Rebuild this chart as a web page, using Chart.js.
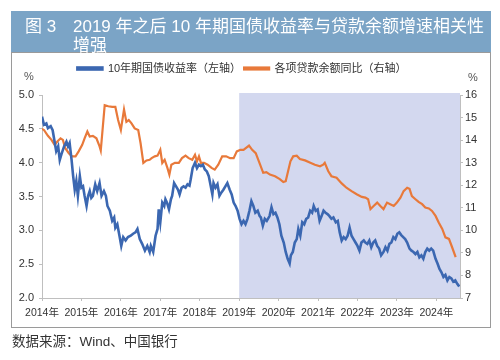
<!DOCTYPE html>
<html>
<head>
<meta charset="utf-8">
<script src="https://cdn.jsdelivr.net/npm/chart.js@4/dist/chart.umd.min.js"></script>
<style>
  body { margin: 0; background: #fff; }
  #wrap { position: relative; width: 500px; height: 360px; background: #fff; overflow: hidden;
          font-family: "Liberation Sans", Arial, "Noto Sans CJK SC", sans-serif; }
  #chart { position: absolute; left: 0; top: 0; }
  #band { position: absolute; left: 11px; top: 11px; width: 480px; height: 41px; background: #7ba4c6;
          color: #fff; font-size: 17px; line-height: 19px; }
  #band .num { position: absolute; left: 14px; top: 6px; }
  #band .txt { position: absolute; left: 62px; top: 6px; white-space: nowrap; }
  #box { position: absolute; left: 11px; top: 52px; width: 480px; height: 276px; box-sizing: border-box;
         border: 1.5px solid #9a9a9a; }
  #source { position: absolute; left: 12px; top: 330px; font-size: 13.5px; color: #333; }
</style>
</head>
<body>
<div id="wrap">
  <canvas id="chart" width="500" height="360"></canvas>
  <div id="box"></div>
  <div id="band"><span class="num">图 3</span><span class="txt">2019 年之后 10 年期国债收益率与贷款余额增速相关性<br>增强</span></div>
  <div id="source">数据来源：Wind、中国银行</div>
</div>
<script>
// 10年期国债收益率 (left axis, %)
const bondDates = [
  2014.00, 2014.05, 2014.11, 2014.15, 2014.22, 2014.27, 2014.32, 2014.36, 2014.41, 2014.45,
  2014.49, 2014.56, 2014.62, 2014.66, 2014.70, 2014.75, 2014.79, 2014.83, 2014.87, 2014.91,
  2014.96, 2015.00, 2015.04, 2015.08, 2015.13, 2015.17, 2015.21, 2015.25, 2015.29, 2015.35,
  2015.40, 2015.46, 2015.51, 2015.57, 2015.62, 2015.66, 2015.72, 2015.78, 2015.83, 2015.86,
  2015.91, 2015.97, 2016.01, 2016.06, 2016.12, 2016.18, 2016.25, 2016.31, 2016.37, 2016.42,
  2016.48, 2016.54, 2016.61, 2016.67, 2016.73, 2016.76, 2016.82, 2016.88, 2016.93, 2016.96,
  2017.00, 2017.05, 2017.10, 2017.13, 2017.17, 2017.22, 2017.27, 2017.30, 2017.35, 2017.40,
  2017.45, 2017.49, 2017.54, 2017.59, 2017.64, 2017.69, 2017.74, 2017.77, 2017.82, 2017.88,
  2017.93, 2017.98, 2018.03, 2018.08, 2018.13, 2018.18, 2018.23, 2018.28, 2018.32, 2018.35,
  2018.40, 2018.45, 2018.50, 2018.55, 2018.60, 2018.65, 2018.70, 2018.76, 2018.81, 2018.86,
  2018.91, 2018.96, 2019.01, 2019.06, 2019.11, 2019.16, 2019.21, 2019.26, 2019.31, 2019.36,
  2019.41, 2019.47, 2019.52, 2019.55, 2019.60, 2019.65, 2019.70, 2019.77, 2019.82, 2019.87,
  2019.92, 2019.97, 2020.02, 2020.07, 2020.13, 2020.18, 2020.23, 2020.28, 2020.31, 2020.36,
  2020.41, 2020.46, 2020.50, 2020.55, 2020.60, 2020.65, 2020.70, 2020.75, 2020.80, 2020.85,
  2020.89, 2020.94, 2020.99, 2021.04, 2021.09, 2021.14, 2021.19, 2021.24, 2021.29, 2021.34,
  2021.39, 2021.45, 2021.50, 2021.55, 2021.60, 2021.65, 2021.70, 2021.75, 2021.80, 2021.85,
  2021.90, 2021.95, 2022.00, 2022.05, 2022.10, 2022.16, 2022.20, 2022.25, 2022.30, 2022.35,
  2022.40, 2022.45, 2022.50, 2022.55, 2022.60, 2022.66, 2022.71, 2022.76, 2022.81, 2022.86,
  2022.91, 2022.96, 2023.01, 2023.06, 2023.11, 2023.16, 2023.21, 2023.26, 2023.32, 2023.37,
  2023.42, 2023.47, 2023.52, 2023.57, 2023.62, 2023.67, 2023.72, 2023.77, 2023.82, 2023.87,
  2023.92, 2023.98, 2024.03, 2024.08, 2024.13, 2024.18, 2024.23, 2024.28, 2024.33, 2024.38,
  2024.43, 2024.48, 2024.53, 2024.58
];
const bondYield = [
  4.68, 4.56, 4.58, 4.51, 4.54, 4.48, 4.31, 4.17, 4.24, 4.04,
  4.12, 4.24, 4.31, 4.24, 4.29, 4.04, 3.80, 3.60, 3.73, 3.51,
  3.80, 3.63, 3.65, 3.51, 3.36, 3.51, 3.58, 3.48, 3.51, 3.68,
  3.58, 3.70, 3.51, 3.58, 3.51, 3.36, 3.29, 3.14, 3.19, 3.04,
  3.09, 2.90, 2.77, 2.90, 2.85, 2.90, 2.92, 2.95, 2.97, 3.02,
  2.87, 2.80, 2.70, 2.77, 2.68, 2.77, 2.68, 2.92, 3.02, 3.31,
  3.12, 3.41, 3.36, 3.46, 3.41, 3.31, 3.46, 3.51, 3.70, 3.65,
  3.60, 3.53, 3.63, 3.65, 3.63, 3.68, 3.66, 3.75, 3.92, 4.00,
  3.92, 3.97, 3.95, 3.97, 3.90, 3.87, 3.80, 3.65, 3.53, 3.70,
  3.63, 3.68, 3.51, 3.56, 3.60, 3.65, 3.70, 3.60, 3.53, 3.41,
  3.36, 3.29, 3.17, 3.09, 3.14, 3.09, 3.17, 3.29, 3.43, 3.36,
  3.26, 3.29, 3.21, 3.19, 3.07, 3.17, 3.14, 3.21, 3.34, 3.24,
  3.26, 3.19, 3.09, 2.92, 2.82, 2.68, 2.58, 2.51, 2.63, 2.68,
  2.82, 2.87, 3.02, 2.92, 3.12, 3.09, 3.17, 3.19, 3.29, 3.26,
  3.36, 3.29, 3.31, 3.14, 3.21, 3.29, 3.26, 3.24, 3.21, 3.17,
  3.19, 3.12, 3.14, 2.97, 2.85, 2.90, 2.87, 2.92, 3.04, 2.92,
  2.87, 2.82, 2.77, 2.70, 2.82, 2.85, 2.82, 2.80, 2.85, 2.75,
  2.82, 2.85, 2.77, 2.73, 2.63, 2.68, 2.75, 2.70, 2.80, 2.82,
  2.90, 2.87, 2.95, 2.97, 2.93, 2.90, 2.87, 2.82, 2.73, 2.70,
  2.68, 2.65, 2.68, 2.60, 2.63, 2.58, 2.68, 2.73, 2.70, 2.73,
  2.70, 2.58, 2.51, 2.43, 2.38, 2.31, 2.34, 2.26, 2.31, 2.29,
  2.24, 2.26, 2.21, 2.17
];

// 各项贷款余额同比 (right axis, %)
const loanDates = [
  2014.00, 2014.05, 2014.15, 2014.24, 2014.32, 2014.39, 2014.47, 2014.53, 2014.59, 2014.68,
  2014.76, 2014.85, 2014.93, 2015.02, 2015.08, 2015.15, 2015.21, 2015.29, 2015.38, 2015.46,
  2015.49, 2015.59, 2015.68, 2015.78, 2015.86, 2015.93, 2016.00, 2016.08, 2016.14, 2016.20,
  2016.27, 2016.35, 2016.44, 2016.50, 2016.57, 2016.65, 2016.73, 2016.78, 2016.86, 2016.93,
  2017.00, 2017.05, 2017.11, 2017.18, 2017.23, 2017.28, 2017.37, 2017.47, 2017.55, 2017.64,
  2017.72, 2017.81, 2017.88, 2017.93, 2017.98, 2018.03, 2018.11, 2018.20, 2018.30, 2018.38,
  2018.47, 2018.57, 2018.67, 2018.77, 2018.86, 2018.94, 2019.03, 2019.11, 2019.25, 2019.33,
  2019.42, 2019.50, 2019.61, 2019.69, 2019.78, 2019.91, 2020.03, 2020.12, 2020.18, 2020.24,
  2020.30, 2020.37, 2020.46, 2020.54, 2020.67, 2020.79, 2020.92, 2021.05, 2021.13, 2021.17,
  2021.26, 2021.34, 2021.47, 2021.60, 2021.72, 2021.85, 2021.98, 2022.11, 2022.20, 2022.27,
  2022.33, 2022.41, 2022.50, 2022.58, 2022.66, 2022.75, 2022.83, 2022.92, 2023.00, 2023.09,
  2023.17, 2023.26, 2023.32, 2023.38, 2023.47, 2023.55, 2023.64, 2023.72, 2023.81, 2023.89,
  2023.98, 2024.06, 2024.15, 2024.23, 2024.32, 2024.40, 2024.49
];
const loanGrowth = [
  14.50, 14.45, 14.19, 14.01, 13.79, 13.94, 14.08, 14.01, 13.64, 13.42,
  13.28, 13.28, 13.50, 13.79, 14.08, 14.38, 14.16, 14.19, 14.08, 13.72,
  13.54, 15.55, 15.50, 15.47, 15.47, 14.89, 14.45, 15.36, 14.81, 14.89,
  14.74, 14.52, 14.45, 13.86, 12.99, 13.10, 13.13, 13.20, 13.28, 13.31,
  13.57, 12.99, 13.13, 12.77, 12.47, 12.91, 12.99, 12.99, 13.20, 13.31,
  13.20, 13.13, 13.35, 13.06, 13.28, 12.99, 12.99, 12.91, 12.77, 12.69,
  12.91, 13.28, 13.28, 13.20, 13.20, 13.50, 13.57, 13.57, 13.76, 13.57,
  13.42, 13.06, 12.55, 12.58, 12.47, 12.40, 12.27, 12.14, 12.18, 12.62,
  13.06, 13.28, 13.31, 13.16, 13.10, 13.01, 12.91, 12.84, 12.91, 12.99,
  12.62, 12.40, 12.33, 12.08, 11.89, 11.74, 11.60, 11.48, 11.45, 11.38,
  10.94, 11.08, 11.23, 11.08, 10.94, 11.23, 11.16, 11.08, 11.23, 11.45,
  11.74, 11.89, 11.84, 11.52, 11.38, 11.26, 11.16, 11.01, 10.97, 10.86,
  10.64, 10.35, 10.06, 9.69, 9.62, 9.25, 8.81
];

const yearTicks = [2014, 2015, 2016, 2017, 2018, 2019, 2020, 2021, 2022, 2023, 2024];
const shadeFrom = 2019;

const blue = '#3b67b1';
const orange = '#e8793a';
const axisGray = '#bfbfbf';
const font = '"Liberation Sans", Arial, "Noto Sans CJK SC", sans-serif';

// light band behind the post-2019 period
const shadePlugin = {
  id: 'shade',
  beforeDatasetsDraw(chart) {
    const {ctx, chartArea, scales} = chart;
    const x0 = scales.x.getPixelForValue(shadeFrom);
    ctx.save();
    ctx.fillStyle = '#d3d8ef';
    ctx.fillRect(x0, chartArea.top - 2, chartArea.right - x0, chartArea.bottom - chartArea.top + 2);
    ctx.restore();
  }
};

// "%" above both value axes
const unitPlugin = {
  id: 'units',
  afterDraw(chart) {
    const {ctx, chartArea} = chart;
    ctx.save();
    ctx.font = '11px ' + font;
    ctx.fillStyle = '#555';
    ctx.textAlign = 'center';
    ctx.textBaseline = 'middle';
    ctx.fillText('%', 29, chartArea.top - 18);
    ctx.fillText('%', chartArea.right + 13, chartArea.top - 17);
    ctx.restore();
  }
};

// some room between the legend and the plot
const legendGap = {
  id: 'legendGap',
  afterInit(chart) {
    const fit = chart.legend.fit;
    chart.legend.fit = function () { fit.call(this); this.height += 11; };
  }
};

const toPoints = (xs, ys) => xs.map((x, i) => ({x: x, y: ys[i]}));

new Chart(document.getElementById('chart'), {
  type: 'line',
  data: {
    datasets: [{
      label: '10年期国债收益率（左轴）',
      data: toPoints(bondDates, bondYield),
      yAxisID: 'y',
      borderColor: blue,
      backgroundColor: blue,
      borderWidth: 2.6,
      pointRadius: 0,
      tension: 0
    }, {
      label: '各项贷款余额同比（右轴）',
      data: toPoints(loanDates, loanGrowth),
      yAxisID: 'y1',
      borderColor: orange,
      backgroundColor: orange,
      borderWidth: 2.2,
      pointRadius: 0,
      tension: 0
    }]
  },
  options: {
    responsive: false,
    animation: false,
    devicePixelRatio: 1,
    layout: { padding: { left: 0, right: 16, top: 60, bottom: 38 } },
    plugins: {
      legend: {
        position: 'top',
        labels: {
          boxWidth: 25,
          boxHeight: 2,
          padding: 3,
          color: '#333',
          font: { size: 11, family: font }
        }
      },
      tooltip: { enabled: false }
    },
    scales: {
      x: {
        type: 'linear',
        min: 2014,
        max: 2024.6,
        afterBuildTicks: s => { s.ticks = yearTicks.map(v => ({value: v})); },
        afterFit: s => { s.height = 24; },
        grid: { drawOnChartArea: false, tickLength: 3, color: axisGray },
        border: { color: axisGray },
        ticks: {
          padding: 6,
          color: '#333',
          maxRotation: 0,
          autoSkip: false,
          font: { size: 10.5, family: font },
          callback: v => v + '年'
        }
      },
      y: {
        position: 'left',
        min: 2,
        max: 5,
        afterFit: s => { s.width = 42; },
        grid: { drawOnChartArea: false, tickLength: 3, color: axisGray },
        border: { color: axisGray },
        ticks: {
          stepSize: 0.5,
          padding: 5,
          color: '#333',
          font: { size: 11, family: font },
          callback: v => v.toFixed(1)
        }
      },
      y1: {
        position: 'right',
        min: 7,
        max: 16,
        afterFit: s => { s.width = 24; },
        grid: { drawOnChartArea: false, tickLength: 3, color: axisGray },
        border: { color: axisGray },
        ticks: {
          stepSize: 1,
          padding: 2,
          color: '#333',
          font: { size: 11, family: font }
        }
      }
    }
  },
  plugins: [shadePlugin, unitPlugin, legendGap]
});
</script>
</body>
</html>
